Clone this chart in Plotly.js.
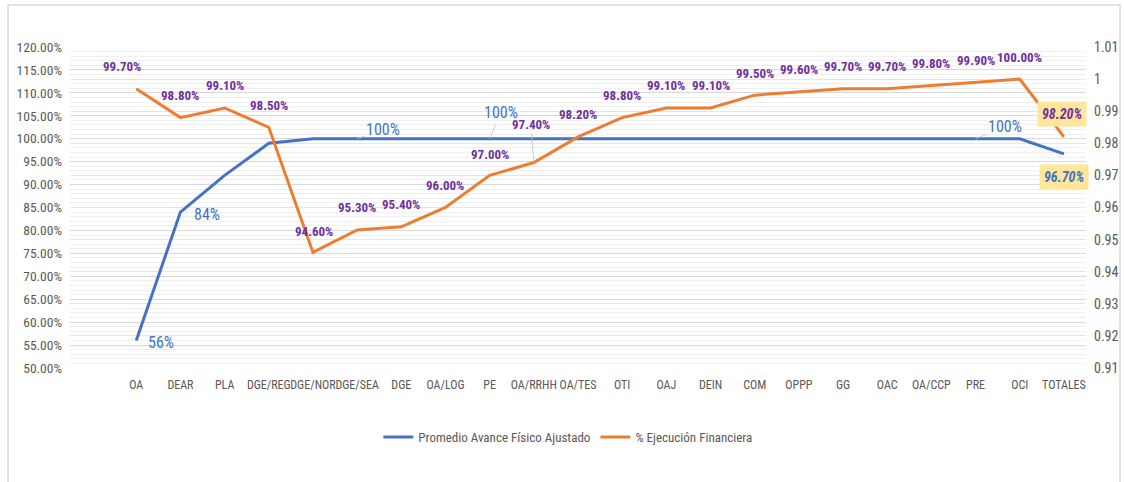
<!DOCTYPE html>
<html>
<head>
<meta charset="utf-8">
<script src="https://cdn.plot.ly/plotly-3.0.1.min.js"></script>
<style>html,body{margin:0;padding:0;background:#fff;}#chart{width:1124px;height:482px;}</style>
</head>
<body>
<div id="chart"></div>
<script>
const categories = ["OA","DEAR","PLA","DGE/REG","DGE/NOR","DGE/SEA","DGE","OA/LOG","PE","OA/RRHH","OA/TES","OTI","OAJ","DEIN","COM","OPPP","GG","OAC","OA/CCP","PRE","OCI","TOTALES"];
const avanceFisico = [0.56,0.84,0.92,0.99,1.00,1.00,1.00,1.00,1.00,1.00,1.00,1.00,1.00,1.00,1.00,1.00,1.00,1.00,1.00,1.00,1.00,0.967];
const ejecucionFinanciera = [0.997,0.988,0.991,0.985,0.946,0.953,0.954,0.960,0.970,0.974,0.982,0.988,0.991,0.991,0.995,0.996,0.997,0.997,0.998,0.999,1.000,0.982];
const finLabels = ["99.70%","98.80%","99.10%","98.50%","94.60%","95.30%","95.40%","96.00%","97.00%","97.40%","98.20%","98.80%","99.10%","99.10%","99.50%","99.60%","99.70%","99.70%","99.80%","99.90%","100.00%","98.20%"];
const fisLabelCats = ["OA","DEAR","DGE/SEA","PE","PRE","TOTALES"];
const fisLabelText = ["56%","84%","100%","100%","100%","96.70%"];
const rightTicks = [0.91,0.92,0.93,0.94,0.95,0.96,0.97,0.98,0.99,1.00,1.01];
const rightTickText = ["0.91","0.92","0.93","0.94","0.95","0.96","0.97","0.98","0.99","1","1.01"];
const seriesNames = ["Promedio Avance Físico Ajustado","% Ejecución Financiera"];

const FONT = "'Liberation Sans Narrow', 'Arial Narrow', 'Roboto Condensed', sans-serif";
const BLUE = "#4472C4", ORANGE = "#ED7D31", PURPLE = "#7030A0", GRAY = "#595959";

const traces = [
  {x: categories, y: avanceFisico, type: "scatter", mode: "lines", name: seriesNames[0],
   line: {color: BLUE, width: 3}, yaxis: "y", hoverinfo: "skip"},
  {x: categories, y: ejecucionFinanciera, type: "scatter", mode: "lines", name: seriesNames[1],
   line: {color: ORANGE, width: 3}, yaxis: "y2", hoverinfo: "skip"}
];

const annotations = [];
// financial labels (purple)
categories.forEach((c, i) => {
  const a = {x: c, y: ejecucionFinanciera[i], xref: "x", yref: "y2", text: "<b>" + finLabels[i] + "</b>",
    showarrow: false, yshift: 22, font: {family: FONT, size: 13, color: PURPLE}};
  if (c === "OA") { a.xshift = -14; }
  if (c === "DGE/NOR") { a.xshift = 1; a.yshift = 21; }
  if (c === "PE") { a.yshift = 21; }
  if (c === "OA/RRHH") { a.showarrow = true; a.arrowhead = 0; a.arrowwidth = 0.8; a.arrowcolor = "#bfbfbf";
    a.ax = -3; a.ay = -38; a.yshift = 0; a.standoff = 0; }
  if (c === "TOTALES") { a.text = "<b><i>" + finLabels[i] + "</i></b>"; a.bgcolor = "#FFE699"; a.xshift = -2;
    a.yshift = 23; a.font.size = 14; a.borderpad = 4; }
  annotations.push(a);
});
// physical progress labels (blue)
fisLabelCats.forEach((c, k) => {
  const i = categories.indexOf(c);
  const a = {x: c, y: avanceFisico[i], xref: "x", yref: "y", text: fisLabelText[k], showarrow: false,
    font: {family: FONT, size: 16, color: BLUE}};
  if (c === "OA") { a.xshift = 25; a.yshift = -2; }
  if (c === "DEAR") { a.xshift = 27; a.yshift = -2; }
  if (c === "DGE/SEA") { a.showarrow = true; a.arrowhead = 0; a.arrowwidth = 0.8; a.arrowcolor = "#bfbfbf";
    a.ax = 26; a.ay = -9; }
  if (c === "PE") { a.showarrow = true; a.arrowhead = 0; a.arrowwidth = 0.8; a.arrowcolor = "#bfbfbf";
    a.ax = 11; a.ay = -26; }
  if (c === "PRE") { a.showarrow = true; a.arrowhead = 0; a.arrowwidth = 0.8; a.arrowcolor = "#bfbfbf";
    a.ax = 29; a.ay = -12; }
  if (c === "TOTALES") { a.text = "<b><i>" + fisLabelText[k] + "</i></b>"; a.bgcolor = "#FFE699";
    a.yshift = -23; a.font.size = 14; a.borderpad = 4; }
  annotations.push(a);
});

const layout = {
  width: 1124, height: 482,
  margin: {l: 70, r: 38, t: 47, b: 114},
  paper_bgcolor: "#ffffff", plot_bgcolor: "#ffffff",
  font: {family: FONT, color: GRAY, size: 12},
  showlegend: true,
  legend: {orientation: "h", x: 0.49, xanchor: "center", y: -0.215, yanchor: "middle",
    font: {family: FONT, size: 13, color: GRAY}, traceorder: "normal", itemwidth: 30},
  xaxis: {type: "category", categoryarray: categories, range: [-1.5, 21.5], showgrid: false,
    zeroline: false, showline: false, ticks: "", tickfont: {family: FONT, size: 12, color: GRAY},
    tickangle: 0, ticklabelstandoff: 8},
  yaxis: {range: [0.5, 1.2], dtick: 0.05, tickformat: ".2%", showgrid: true, gridcolor: "#d9d9d9",
    gridwidth: 1, zeroline: false, showline: false, ticks: "", ticklabelstandoff: 7,
    tickfont: {family: FONT, size: 13.5, color: GRAY},
    minor: {dtick: 0.01, showgrid: true, gridcolor: "#f0f0f0", gridwidth: 1}},
  yaxis2: {range: [0.91, 1.01], overlaying: "y", side: "right", tickvals: rightTicks, ticktext: rightTickText,
    showgrid: true, gridcolor: "#e6e6e6", zeroline: false, showline: false, ticks: "", ticklabelstandoff: 7,
    tickfont: {family: FONT, size: 14, color: GRAY}},
  annotations: annotations,
  shapes: [
    {type: "rect", xref: "paper", yref: "paper", x0: -0.061, x1: 1.0335, y0: -0.4, y1: 1.131,
     line: {color: "#d9d9d9", width: 1.5}, fillcolor: "rgba(0,0,0,0)", layer: "below"}
  ]
};

Plotly.newPlot("chart", traces, layout, {displayModeBar: false, staticPlot: true});
</script>
</body>
</html>
